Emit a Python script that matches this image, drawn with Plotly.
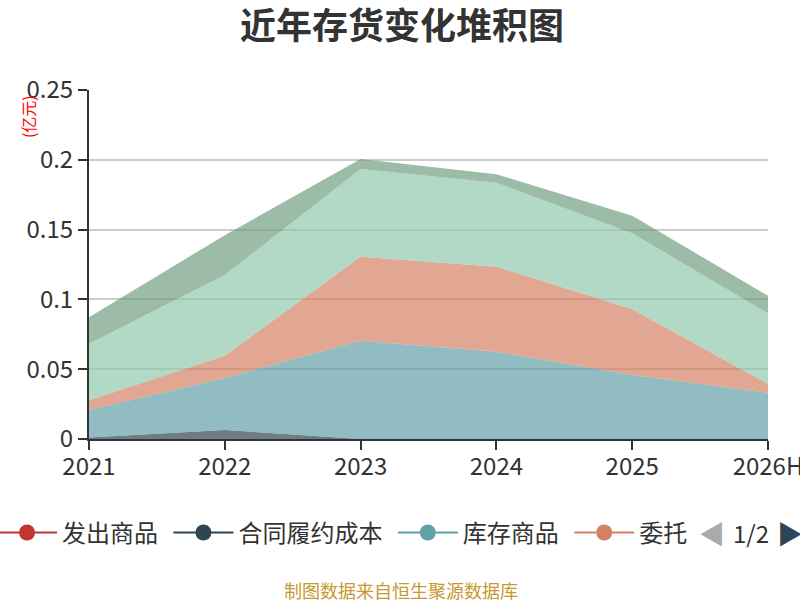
import plotly.graph_objects as go

# 年份
years = ['2021', '2022', '2023', '2024', '2025', '2026H']

# 各类存货, 亿元 (从下往上堆积)
fachu_shangpin = [0, 0, 0, 0, 0, 0]
hetong_lvyue = [0.001, 0.0065, 0, 0, 0, 0]
kucun_shangpin = [0.0198, 0.0372, 0.0704, 0.0625, 0.0458, 0.0332]
weituo_jiagong = [0.0069, 0.016, 0.0602, 0.0609, 0.0471, 0.0062]
yuancailiao = [0.0406, 0.0578, 0.0628, 0.0602, 0.0544, 0.0506]
zaichanpin = [0.019, 0.0285, 0.0072, 0.006, 0.0127, 0.0126]

names = ['发出商品', '合同履约成本', '库存商品', '委托加工物资', '原材料', '在产品']
legend_names = ['发出商品', '合同履约成本', '库存商品', '委托']
colors = ['#c23531', '#2f4554', '#61a0a8', '#d48265', '#91c7ae', '#749f83']
series = [fachu_shangpin, hetong_lvyue, kucun_shangpin, weituo_jiagong, yuancailiao, zaichanpin]

font = 'Noto Sans CJK SC'


def rgba(hex_color, a):
    h = hex_color.lstrip('#')
    return 'rgba(%d,%d,%d,%s)' % (int(h[0:2], 16), int(h[2:4], 16), int(h[4:6], 16), a)


fig = go.Figure()
for name, col, vals in zip(names, colors, series):
    fig.add_trace(go.Scatter(x=years, y=vals, name=name, stackgroup='one', mode='lines',
                             line=dict(width=0, color=col), fillcolor=rgba(col, 0.7),
                             showlegend=False))

# 图例 (只显示第一页)
for name, col in zip(legend_names, colors):
    fig.add_trace(go.Scatter(x=[None], y=[None], name=name + '\u00a0', mode='lines+markers',
                             line=dict(width=2, color=col), marker=dict(size=16, color=col)))

fig.update_layout(
    width=800, height=600,
    margin=dict(l=89, r=32, t=90, b=161, autoexpand=False),
    paper_bgcolor='white', plot_bgcolor='white',
    font=dict(family=font, color='#333'),
    title=dict(text='<b>近年存货变化堆积图</b>', x=0.5025, xanchor='center', xref='container',
               y=0.9567, yanchor='middle', yref='container',
               font=dict(size=36, color='#333', family=font)),
    legend=dict(orientation='h', x=-0.1428, xanchor='left', y=-0.269, yanchor='middle',
                font=dict(size=24, color='#333'), itemwidth=60, traceorder='normal'),
    showlegend=True,
)
fig.update_xaxes(type='category', range=[0, 5], showline=True, linecolor='#333', linewidth=2,
                 ticks='outside', ticklen=9, tickcolor='#333', tickwidth=2,
                 tickfont=dict(size=24, color='#333'), showgrid=False, ticklabelstandoff=-4)
fig.update_yaxes(range=[0, 0.25], dtick=0.05, showline=True, linecolor='#333', linewidth=2,
                 ticks='outside', ticklen=9, tickcolor='#333', tickwidth=2,
                 tickfont=dict(size=24, color='#333'), gridcolor='#ccc', gridwidth=1.5,
                 zeroline=False)

fig.add_annotation(text='(亿元)', textangle=-90, xref='paper', yref='paper', x=-0.0906, y=0.991,
                   xanchor='center', yanchor='top', showarrow=False,
                   font=dict(size=16, color='red', family=font))
fig.add_annotation(text='制图数据来自恒生聚源数据库', xref='paper', yref='paper', x=0.4595, y=-0.433,
                   xanchor='center', yanchor='middle', showarrow=False,
                   font=dict(size=18, color='#c9972f', family=font))
# 翻页器
fig.add_annotation(text='◀', xref='paper', yref='paper', x=0.918, y=-0.269, xanchor='center',
                   yanchor='middle', showarrow=False, font=dict(size=26, color='#aaa'))
fig.add_annotation(text='1/2', xref='paper', yref='paper', x=0.975, y=-0.269, xanchor='center',
                   yanchor='middle', showarrow=False, font=dict(size=24, color='#333', family=font))
fig.add_annotation(text='▶', xref='paper', yref='paper', x=1.033, y=-0.269, xanchor='center',
                   yanchor='middle', showarrow=False, font=dict(size=26, color='#2f4554'))

# 去掉页面 body 默认的 8px 边距
fig.write_html('out.html', config={'displayModeBar': False},
               post_script="document.body.style.margin='0';")
